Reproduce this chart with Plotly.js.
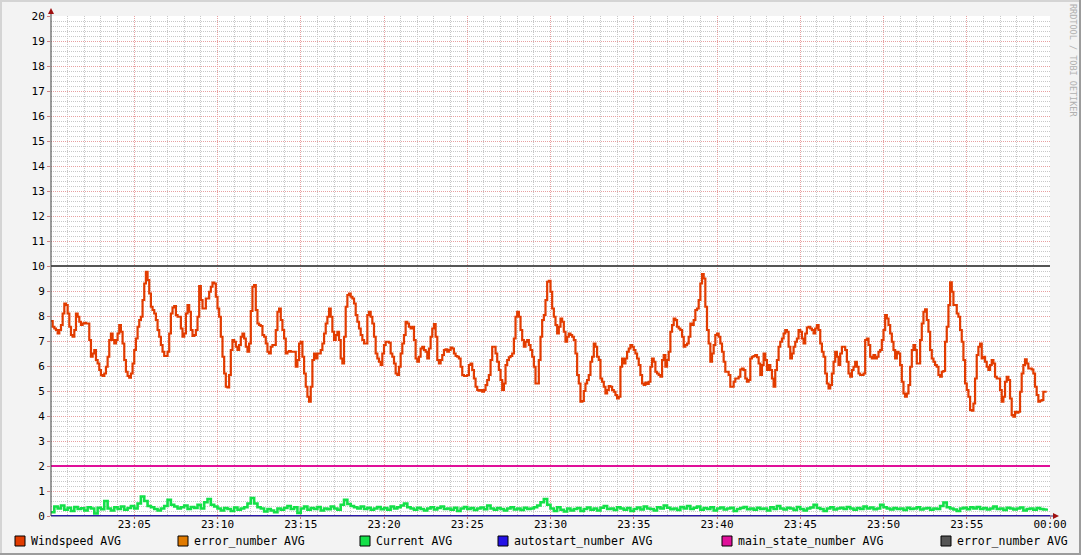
<!DOCTYPE html>
<html>
<head>
<meta charset="utf-8">
<script src="https://cdn.plot.ly/plotly-3.0.1.min.js"></script>
<style>
html,body{margin:0;padding:0;background:#f3f3f3;}
#chart{width:1081px;height:555px;}
</style>
</head>
<body>
<div id="chart"></div>
<script>
// ---- DATA ----
const startTime = "2024-01-01 23:00:00";
const endTime = "2024-01-02 00:00:00";
const windspeedStepSec = 6;
const currentStepSec = 12;

const windspeed = [
7.8,7.57,7.5,7.44,7.3,7.44,7.64,8.1,8.5,8.44,8.1,7.57,7.24,7.17,7.44,8.1,7.97,7.77,7.64,7.7,
7.73,7.7,7.7,7.04,6.37,6.5,6.64,6.24,6.1,5.84,5.64,5.6,5.7,5.97,6.37,7.04,7.3,7.04,6.9,7.04,
7.3,7.64,7.37,6.9,6.24,5.77,5.6,5.53,5.7,6.1,6.64,7.1,7.57,7.84,7.97,8.64,9.3,9.77,9.44,8.9,
8.37,8.24,8.1,7.84,7.44,7.17,6.84,6.57,6.4,6.4,6.57,7.3,8.1,8.34,8.4,8.04,7.97,7.97,7.5,7.17,
7.3,8.1,8.44,8.17,7.44,7.2,7.24,7.44,7.97,9.2,8.64,8.3,8.3,8.7,8.7,8.97,9.17,9.34,9.3,8.77,
8.3,7.97,7.17,6.37,5.7,5.17,5.14,5.64,6.64,7.04,6.97,6.77,6.64,6.84,7.17,7.3,7.1,6.77,6.57,6.9,
8.2,9.17,9.24,8.24,7.7,7.64,7.6,7.24,7.17,6.9,6.57,6.5,6.77,6.84,6.84,7.44,8.17,8.3,7.84,7.44,
7.1,6.5,6.57,6.6,6.57,6.57,6.57,5.97,6.24,6.9,6.97,6.37,5.7,5.17,4.77,4.57,5.17,6.24,6.5,6.3,
6.5,
6.5,6.64,6.9,7.3,7.7,7.97,8.3,7.97,7.37,7.04,7.24,7.37,7.04,6.3,6.1,7.17,8.37,8.84,8.9,8.77,
8.7,8.5,8.04,7.77,7.5,7.24,7.04,6.9,6.9,8.04,8.17,7.97,7.7,7.17,6.5,6.3,6.17,6.04,6.5,6.84,
6.97,6.97,6.93,6.5,6.37,6.1,5.7,5.64,5.97,6.5,6.9,7.24,7.77,7.7,7.57,7.5,7.57,7.04,6.3,6.17,
6.37,6.7,6.77,6.64,6.57,6.3,6.7,7.17,7.5,7.68,7.17,6.24,6.1,6.24,6.44,6.64,6.67,6.57,6.64,6.74,
6.7,6.5,6.4,6.37,6.3,5.97,5.64,5.6,5.6,5.64,6.04,6.1,5.84,5.5,5.17,5.04,5.01,5.04,4.97,5.04,
5.24,5.44,5.64,6.24,6.77,6.77,6.5,6.17,5.84,5.44,5.04,5.3,6.04,6.24,6.35,6.4,6.5,7.1,7.97,8.17,
7.97,7.44,7.04,6.77,6.97,7.04,6.84,6.64,6.37,5.97,5.3,5.3,6.24,7.17,7.84,8.04,8.64,9.37,9.41,8.97,
8.3,7.97,7.64,7.3,7.57,7.9,7.77,7.37,6.97,7.17,7.3,7.24,7.17,7.04,6.5,5.64,5.3,
4.57,4.6,5.0,5.3,5.44,5.64,6.17,6.37,6.9,6.77,6.37,6.24,5.5,5.37,5.17,4.9,5.04,5.2,5.17,5.04,
4.97,4.84,4.7,4.77,5.97,6.3,6.1,6.3,6.57,6.7,6.84,6.77,6.64,6.5,6.3,6.04,5.64,5.3,5.24,5.34,
5.28,5.37,5.97,6.3,6.17,5.77,5.7,5.64,5.57,6.24,6.44,5.97,6.24,6.57,7.37,7.64,7.9,7.84,7.57,7.5,
7.44,7.17,6.77,6.84,6.9,7.17,7.7,7.64,7.84,8.24,8.3,8.64,9.3,9.68,9.5,8.37,7.44,6.9,6.17,6.5,
6.84,7.24,7.3,7.17,6.9,6.57,6.17,5.77,5.77,5.64,5.17,5.17,5.37,5.5,5.5,5.57,5.86,5.9,5.84,5.5,
5.37,5.44,6.3,6.37,6.4,6.44,6.35,6.1,5.64,6.04,6.5,6.24,5.84,6.04,5.84,5.5,5.17,5.84,6.24,6.77,
6.97,7.1,7.3,7.44,7.37,6.77,6.3,6.5,6.77,6.97,7.1,7.44,7.37,7.1,6.9,7.3,7.54,7.57,7.5,7.44,
7.3,7.5,7.64,7.44,
6.9,6.57,6.37,5.7,5.3,5.1,5.24,5.7,6.17,6.57,6.37,6.04,6.5,6.77,6.77,6.64,6.17,5.7,5.57,5.84,
5.97,6.17,5.97,5.7,5.64,5.64,5.7,7.04,7.1,6.84,6.37,6.3,6.44,6.3,6.37,6.57,6.64,7.04,7.44,8.04,
7.9,7.64,7.3,6.97,6.64,6.3,6.57,6.5,6.04,5.37,4.9,4.77,4.9,5.24,5.97,6.64,6.84,6.64,6.1,6.1,
7.04,7.7,8.17,8.27,7.84,7.37,6.64,6.3,6.17,6.04,5.97,5.64,5.57,5.77,5.8,6.97,7.57,8.44,9.35,8.97,
8.44,8.44,8.1,7.97,7.44,6.97,6.24,5.3,5.04,4.77,4.24,4.21,4.5,5.5,6.44,6.77,6.9,6.3,6.37,6.17,
5.97,5.84,6.04,6.24,6.1,5.57,5.5,5.5,5.04,4.57,4.77,5.37,5.57,5.44,4.7,4.04,3.97,4.17,4.13,4.17,
4.97,5.7,6.04,6.27,6.1,5.9,5.9,5.86,5.7,5.17,4.84,4.57,4.61,4.64,4.97,4.97,4.97
];

const current = [
0.15,0.38,0.3,0.42,0.25,0.33,0.2,0.36,0.28,0.31,
0.22,0.35,0.3,0.1,0.33,0.27,0.6,0.3,0.22,0.35,
0.28,0.38,0.25,0.32,0.4,0.3,0.5,0.78,0.6,0.4,
0.35,0.28,0.22,0.3,0.4,0.65,0.45,0.38,0.3,0.35,
0.42,0.28,0.36,0.32,0.45,0.3,0.55,0.68,0.45,0.38,
0.3,0.22,0.32,0.28,0.2,0.34,0.25,0.3,0.35,0.5,
0.72,0.5,0.35,0.3,0.18,0.28,0.22,0.15,0.3,0.25,
0.32,0.4,0.28,0.35,0.12,0.3,0.38,0.25,0.32,0.28,
0.36,0.22,0.3,0.27,0.38,0.3,0.25,0.45,0.65,0.48,
0.4,0.35,0.3,0.38,0.28,0.33,0.25,0.3,0.36,0.27,
0.32,0.25,0.38,0.3,0.35,0.42,0.5,0.35,0.3,0.25,
0.33,0.28,0.22,0.3,0.35,0.26,0.32,0.38,0.28,0.3,
0.25,0.33,0.2,0.3,0.36,0.28,0.32,0.24,0.3,0.34,
0.27,0.42,0.3,0.25,0.32,0.28,0.22,0.3,0.35,0.26,
0.3,0.24,0.33,0.28,0.3,0.35,0.42,0.55,0.68,0.45,
0.3,0.2,0.35,0.25,0.18,0.3,0.22,0.28,0.32,0.2,
0.28,0.34,0.25,0.3,0.22,0.33,0.4,0.28,0.3,0.24,
0.35,0.3,0.25,0.32,0.2,0.28,0.34,0.26,0.38,0.3,
0.28,0.22,0.35,0.3,0.42,0.33,0.27,0.3,0.24,0.36,
0.3,0.4,0.28,0.33,0.38,0.25,0.32,0.28,0.35,0.22,
0.3,0.34,0.26,0.3,0.33,0.2,0.28,0.32,0.36,0.27,
0.3,0.25,0.33,0.28,0.3,0.22,0.35,0.28,0.4,0.3,
0.26,0.33,0.3,0.24,0.36,0.28,0.22,0.3,0.34,0.45,
0.32,0.28,0.2,0.3,0.35,0.26,0.3,0.33,0.28,0.36,
0.3,0.25,0.32,0.28,0.38,0.3,0.34,0.27,0.3,0.45,
0.35,0.3,0.26,0.32,0.28,0.3,0.24,0.33,0.28,0.3,
0.35,0.26,0.3,0.32,0.25,0.3,0.28,0.4,0.54,0.35,
0.3,0.26,0.2,0.3,0.33,0.27,0.35,0.3,0.36,0.28,
0.32,0.26,0.3,0.38,0.28,0.3,0.24,0.33,0.3,0.26,
0.3,0.34,0.22,0.28,0.3,0.25,0.32,0.28,0.26,0.3
];

const errorNumberOrange = [0, 0];
const autostartNumber = [0, 0];
const mainStateNumber = [2, 2];
const errorNumberGray = [10, 10];

const seriesNames = ["Windspeed AVG","error_number AVG","Current AVG","autostart_number AVG","main_state_number AVG","error_number AVG"];
const seriesColors = ["#e23c00","#e07a00","#14e048","#2412e6","#e0109a","#555555"];
const legendX = [15, 178, 360, 498, 722, 941];

const yTickVals = [0,1,2,3,4,5,6,7,8,9,10,11,12,13,14,15,16,17,18,19,20];
const xTickTimes = ["2024-01-01 23:05","2024-01-01 23:10","2024-01-01 23:15","2024-01-01 23:20","2024-01-01 23:25","2024-01-01 23:30","2024-01-01 23:35","2024-01-01 23:40","2024-01-01 23:45","2024-01-01 23:50","2024-01-01 23:55","2024-01-02 00:00"];
const xTickLabels = ["23:05","23:10","23:15","23:20","23:25","23:30","23:35","23:40","23:45","23:50","23:55","00:00"];

// ---- BUILD ----
function toMs(s){ const [d,t]=s.split(" "); const [Y,M,D]=d.split("-").map(Number); const tt=t.split(":").map(Number); return Date.UTC(Y,M-1,D,tt[0],tt[1],tt[2]||0); }
const t0 = toMs(startTime), t1 = toMs(endTime);
const wsX = windspeed.map((_,i)=> t0 + i*windspeedStepSec*1000);
const curX = current.map((_,i)=> t0 + i*currentStepSec*1000);
const constX = [t0, t1];

const traces = [
 {x: wsX, y: windspeed, mode:"lines", line:{color:seriesColors[0], width:2.2, shape:"hv"}, name:seriesNames[0]},
 {x: constX, y: errorNumberOrange, mode:"lines", line:{color:seriesColors[1], width:1}, name:seriesNames[1]},
 {x: curX, y: current, mode:"lines", line:{color:seriesColors[2], width:2.6, shape:"hv"}, name:seriesNames[2]},
 {x: constX, y: autostartNumber, mode:"lines", line:{color:seriesColors[3], width:2}, name:seriesNames[3]},
 {x: constX, y: mainStateNumber, mode:"lines", line:{color:seriesColors[4], width:2}, name:seriesNames[4]},
 {x: constX, y: errorNumberGray, mode:"lines", line:{color:seriesColors[5], width:2}, name:seriesNames[5]}
];

const L=51, R=1050, T=16, B=516;
const px = v => (v-L)/(R-L);
const py = v => (B-v)/(B-T);

const shapes = [
 {type:"rect", xref:"paper", yref:"paper", x0:px(0), x1:px(1081), y0:py(0), y1:py(2), fillcolor:"#d4d4d4", line:{width:0}, layer:"below"},
 {type:"rect", xref:"paper", yref:"paper", x0:px(0), x1:px(2), y0:py(0), y1:py(555), fillcolor:"#d4d4d4", line:{width:0}, layer:"below"},
 {type:"rect", xref:"paper", yref:"paper", x0:px(0), x1:px(1081), y0:py(553), y1:py(555), fillcolor:"#9c9c9c", line:{width:0}, layer:"below"},
 {type:"rect", xref:"paper", yref:"paper", x0:px(1079), x1:px(1081), y0:py(0), y1:py(555), fillcolor:"#9c9c9c", line:{width:0}, layer:"below"},
 {type:"line", xref:"paper", yref:"paper", x0:px(51), x1:px(51), y0:py(516), y1:py(10), line:{color:"#404040", width:1}},
 {type:"line", xref:"paper", yref:"paper", x0:px(51), x1:px(1056), y0:py(516), y1:py(516), line:{color:"#2c1f70", width:1}},
 {type:"path", xref:"paper", yref:"paper", path:`M ${px(48)} ${py(14)} L ${px(54)} ${py(14)} L ${px(51)} ${py(8)} Z`, fillcolor:"#a01010", line:{width:0}},
 {type:"path", xref:"paper", yref:"paper", path:`M ${px(1053)} ${py(513)} L ${px(1053)} ${py(519)} L ${px(1059)} ${py(516)} Z`, fillcolor:"#a01010", line:{width:0}}
];

const annotations = [
 {xref:"paper", yref:"paper", x:px(1073), y:py(60), text:"RRDTOOL / TOBI OETIKER", showarrow:false, textangle:90,
  font:{family:"DejaVu Sans Mono", size:8.5, color:"#b0b0b0"}, xanchor:"center", yanchor:"middle"}
];

seriesNames.forEach((n,i)=>{
  shapes.push({type:"rect", xref:"paper", yref:"paper", x0:px(legendX[i]), x1:px(legendX[i]+10), y0:py(536), y1:py(546),
    fillcolor:seriesColors[i], line:{color:"#000000", width:1}});
  annotations.push({xref:"paper", yref:"paper", x:px(legendX[i]+14), y:py(541), text:n, showarrow:false,
    xanchor:"left", yanchor:"middle", font:{family:"DejaVu Sans Mono", size:11.5, color:"#000"}});
});

const layout = {
  width:1081, height:555,
  margin:{l:L, r:1081-R, t:T, b:555-B, pad:0},
  paper_bgcolor:"#f3f3f3", plot_bgcolor:"#ffffff",
  showlegend:false,
  font:{family:"DejaVu Sans Mono", size:11, color:"#000"},
  xaxis:{type:"date", range:[t0,t1], tickmode:"array", tickvals:xTickTimes.map(s=>toMs(s+":00")), ticktext:xTickLabels,
    showgrid:true, gridcolor:"#e8a0a0", griddash:"1px,1px", gridwidth:1,
    minor:{tickmode:"linear", tick0:t0, dtick:60000, showgrid:true, gridcolor:"#c8c8c8", griddash:"1px,1px", gridwidth:1, ticks:""},
    ticks:"outside", ticklen:2, tickcolor:"#d08080", ticklabelstandoff:-4, zeroline:false, showline:false, fixedrange:true,
    tickfont:{family:"DejaVu Sans Mono", size:11, color:"#000"}},
  yaxis:{range:[0,20], tickmode:"array", tickvals:yTickVals,
    showgrid:true, gridcolor:"#e8a0a0", griddash:"1px,1px", gridwidth:1,
    minor:{tickmode:"linear", tick0:0, dtick:0.2, showgrid:true, gridcolor:"#c8c8c8", griddash:"1px,1px", gridwidth:1, ticks:""},
    ticks:"outside", ticklen:3, tickcolor:"#d08080", zeroline:false, showline:false, fixedrange:true,
    tickfont:{family:"DejaVu Sans Mono", size:11, color:"#000"}},
  shapes:shapes, annotations:annotations
};

Plotly.newPlot("chart", traces, layout, {staticPlot:true, displayModeBar:false});
</script>
</body>
</html>
